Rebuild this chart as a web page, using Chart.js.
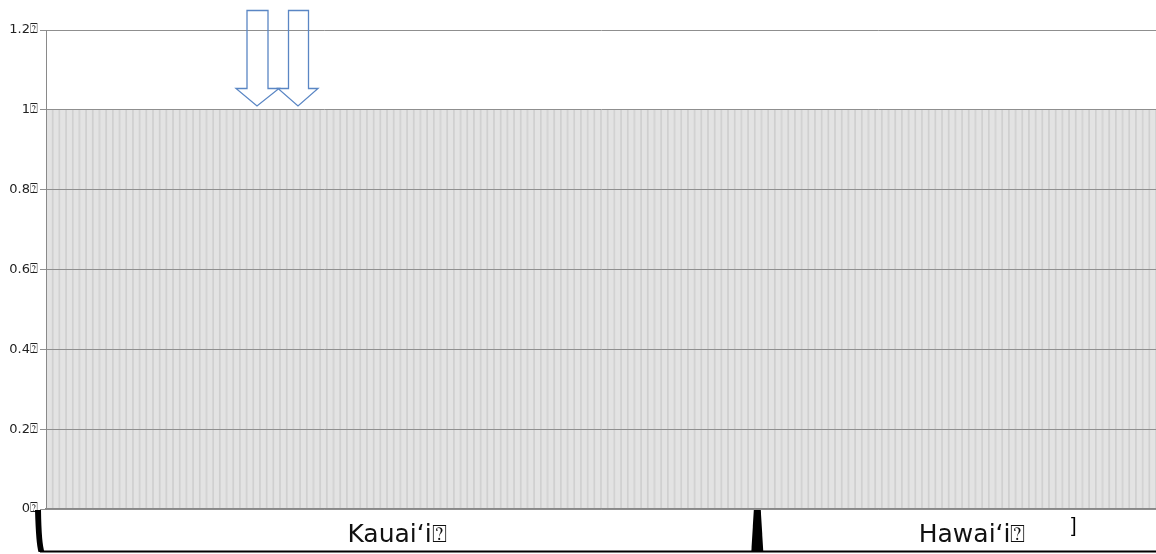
<!DOCTYPE html>
<html>
<head>
<meta charset="utf-8">
<script src="https://cdn.jsdelivr.net/npm/chart.js@4.4.1/dist/chart.umd.min.js"></script>
<style>
html,body{margin:0;padding:0;background:#fff;}
#wrap{width:1156px;height:554px;position:relative;}
</style>
</head>
<body>
<div id="wrap"><canvas id="c" width="1156" height="554"></canvas></div>
<script>
// ---- data ----
const groupNames = ['Kauai‘i⍰', 'Hawai‘i⍰'];
const kauaiValues = [
  1,1,1,1,1,1,1,1,1,1, 1,1,1,1,1,1,1,1,1,1,
  1,1,1,1,1,1,1,1,1,1, 1,1,1,1,1,1,1,1,1,1,
  1,1,1,1,1,1,1,1,1,1, 1,1,1,1,1,1,1,1,1,1,
  1,1,1,1,1,1,1,1,1,1, 1,1,1,1,1,1,1,1,1,1,
  1,1,1,1,1,1,1,1,1,1, 1,1,1,1,1,1,1,1,1,1,
  1,1,1,1,1,1
];
const hawaiiValues = [
  1,1,1,1,1,1,1,1,1,1, 1,1,1,1,1,1,1,1,1,1,
  1,1,1,1,1,1,1,1,1,1, 1,1,1,1,1,1,1,1,1,1,
  1,1,1,1,1,1,1,1,1,1, 1,1,1,1,1,1,1,1,1,1
];
const yTickValues = [0, 0.2, 0.4, 0.6, 0.8, 1, 1.2];
const yTickLabels = ['0⍰', '0.2⍰', '0.4⍰', '0.6⍰', '0.8⍰', '1⍰', '1.2⍰'];

// ---- build ----
const values = kauaiValues.concat(hawaiiValues);
const categories = values.map((v, i) => i < kauaiValues.length ? 'Kauai ' + (i + 1) : 'Hawaii ' + (i - kauaiValues.length + 1));
const labelIndex = {};
labelIndex[Math.floor(kauaiValues.length / 2) - 1] = groupNames[0];
labelIndex[kauaiValues.length + 32] = groupNames[1];

const deco = {
  id: 'deco',
  afterDraw(chart) {
    const ctx = chart.ctx;
    const xs = chart.scales.x;
    const ys = chart.scales.y;
    const top = ys.getPixelForValue(0) + 1;
    const bot = 552;
    ctx.save();
    ctx.fillStyle = '#000';
    // left curved bracket
    ctx.beginPath();
    ctx.moveTo(35, top);
    ctx.lineTo(41, top);
    ctx.quadraticCurveTo(41.5, bot - 8, 44.5, bot);
    ctx.lineTo(38.5, bot);
    ctx.quadraticCurveTo(36, bot - 8, 35, top);
    ctx.fill();
    // divider between groups
    const bx = (xs.getPixelForValue(kauaiValues.length - 1) + xs.getPixelForValue(kauaiValues.length)) / 2 + 2.5;
    ctx.beginPath();
    ctx.moveTo(bx - 3.5, top);
    ctx.lineTo(bx + 3.5, top);
    ctx.lineTo(bx + 6, bot);
    ctx.lineTo(bx - 6, bot);
    ctx.closePath();
    ctx.fill();
    // bottom line
    ctx.fillRect(40, bot - 1.5, 1116, 2);
    // bracket char
    ctx.font = '20px "Liberation Sans"';
    ctx.textBaseline = 'alphabetic';
    ctx.fillText(']', 1071, 532);
    // arrows
    ctx.strokeStyle = '#5a86c4';
    ctx.lineWidth = 1.3;
    const arrow = (l, r, hl, hr, tip) => {
      ctx.beginPath();
      ctx.moveTo(l, 10.5);
      ctx.lineTo(r, 10.5);
      ctx.lineTo(r, 88.5);
      ctx.lineTo(hr, 88.5);
      ctx.lineTo(tip, 106);
      ctx.lineTo(hl, 88.5);
      ctx.lineTo(l, 88.5);
      ctx.closePath();
      ctx.stroke();
    };
    arrow(247, 268, 236, 279, 257);
    arrow(288.5, 308.5, 278, 318, 298);
    ctx.restore();
  }
};

new Chart(document.getElementById('c'), {
  type: 'bar',
  data: {
    labels: categories,
    datasets: [{
      data: values,
      backgroundColor: '#e3e3e3',
      borderColor: '#d0d0d0',
      borderWidth: {left: 1.2, right: 1.2, top: 0, bottom: 0},
      borderSkipped: false,
      barPercentage: 1,
      categoryPercentage: 1
    }]
  },
  options: {
    responsive: false,
    animation: false,
    events: [],
    layout: {padding: {top: 30, right: 0, bottom: 0, left: 0}},
    plugins: {legend: {display: false}, tooltip: {enabled: false}},
    scales: {
      x: {
        grid: {display: false, drawTicks: false},
        border: {display: true, color: '#888', width: 1.5, z: 1},
        afterFit(s) { s.height = 45; s.paddingLeft = 0; s.paddingRight = 0; },
        ticks: {
          autoSkip: false,
          maxRotation: 0,
          padding: 11,
          color: '#111',
          font: {family: '"DejaVu Sans"', size: 25},
          callback: (v, i) => labelIndex[i] || ''
        }
      },
      y: {
        min: 0,
        max: 1.2,
        afterBuildTicks(s) { s.ticks = yTickValues.map(v => ({value: v})); },
        afterFit(s) { s.width = 46; s.paddingTop = 0; s.paddingBottom = 0; },
        grid: {color: '#8f8f8f', lineWidth: 1, tickLength: 6, drawTicks: true, z: 1},
        border: {display: true, color: '#8a8a8a', width: 1, z: 1},
        ticks: {
          padding: 2,
          color: '#222',
          font: {family: '"DejaVu Sans"', size: 13},
          callback: (v, i) => yTickLabels[yTickValues.indexOf(v)]
        }
      }
    }
  },
  plugins: [deco]
});
</script>
</body>
</html>
